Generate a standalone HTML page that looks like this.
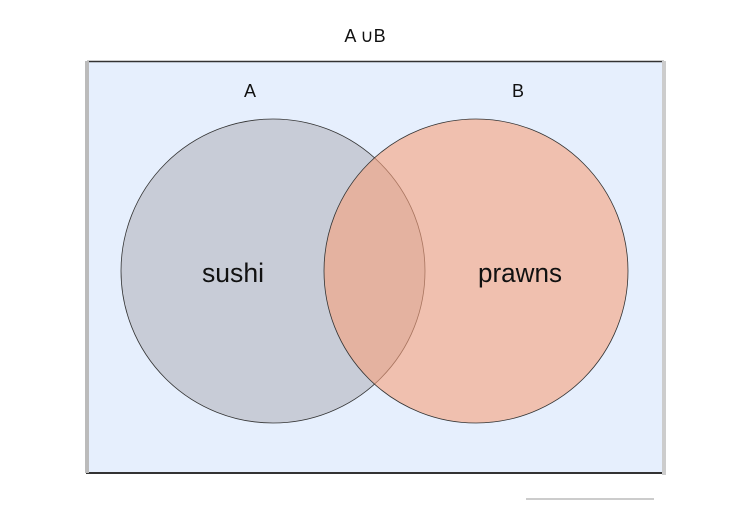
<!DOCTYPE html>
<html><head><style>
body{margin:0;background:#fff;width:750px;height:500px;overflow:hidden;position:relative;font-family:"Liberation Sans",sans-serif}
</style></head><body>
<svg width="750" height="500" xmlns="http://www.w3.org/2000/svg">
<rect x="87" y="61" width="577" height="412" fill="#e6effd"/>
<line x1="87" y1="61.5" x2="664" y2="61.5" stroke="#333" stroke-width="1.5"/>
<line x1="86" y1="473" x2="663" y2="473" stroke="#333" stroke-width="2"/>
<rect x="85" y="61" width="4" height="412" fill="#bbb"/>
<rect x="662" y="61" width="4" height="414" fill="#ccc"/>
<rect x="526" y="498" width="128" height="2" fill="#ccc"/>
<circle cx="273" cy="271" r="152" fill="#c8ccd7" stroke="#333" stroke-width="0.8"/>
<circle cx="476" cy="271" r="152" fill="#f7a07c" fill-opacity="0.6" stroke="#333" stroke-width="0.8"/>
<text x="365" y="42" font-size="18" text-anchor="middle" fill="#111">A ∪B</text>
<text x="250" y="97" font-size="18" text-anchor="middle" fill="#111">A</text>
<text x="518" y="97" font-size="18" text-anchor="middle" fill="#111">B</text>
<text x="233" y="282" font-size="27" text-anchor="middle" fill="#111" textLength="62" lengthAdjust="spacingAndGlyphs">sushi</text>
<text x="520" y="282" font-size="27" text-anchor="middle" fill="#111" textLength="84" lengthAdjust="spacingAndGlyphs">prawns</text>
</svg>
</body></html>
